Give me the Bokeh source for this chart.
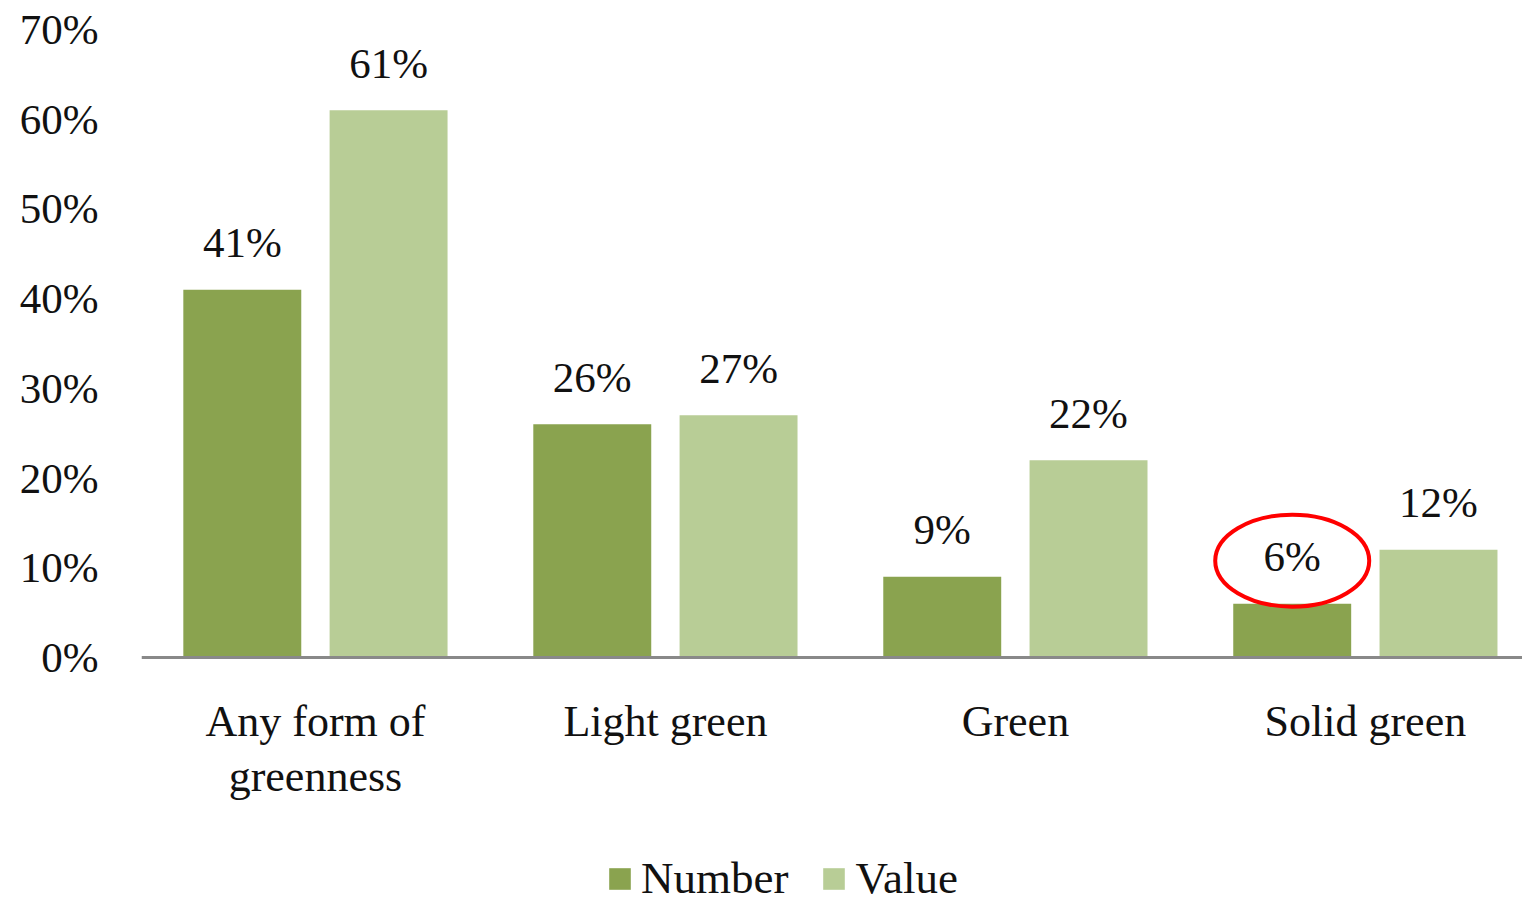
from bokeh.plotting import figure
from bokeh.models import ColumnDataSource, Legend, LegendItem, FixedTicker, Range1d, Span
from bokeh.core.properties import value
from bokeh.embed import file_html
from bokeh.resources import INLINE

categories = ["Any form of\ngreenness", "Light green", "Green", "Solid green"]
number_vals = [41, 26, 9, 6]
value_vals = [61, 27, 22, 12]
y_ticks = [0, 10, 20, 30, 40, 50, 60, 70]
y_tick_labels = ["0%", "10%", "20%", "30%", "40%", "50%", "60%", "70%"]
highlight_index = 3  # circled label: Solid green / Number

FONT = "Liberation Serif"
DARK = "#8AA34F"
LIGHT = "#B8CD96"
TXT = "#111111"

W, H = 1522, 904
B_LEFT, B_TOP = 141, 29
ZERO_Y = 657          # pixel row of the 0% baseline
Y_MAX = 70
px_per_unit = (ZERO_Y - B_TOP) / Y_MAX
y_min = -(H - ZERO_Y) / px_per_unit

centers = [i + 0.5 for i in range(len(categories))]
off = 0.209
bw = 0.337

src_n = ColumnDataSource(dict(x=[c - off for c in centers], top=number_vals,
                              lab=[f"{v}%" for v in number_vals]))
src_v = ColumnDataSource(dict(x=[c + off for c in centers], top=value_vals,
                              lab=[f"{v}%" for v in value_vals]))
src_c = ColumnDataSource(dict(x=centers, y=[0] * len(centers), lab=categories))

p = figure(width=W, height=H, output_backend="svg", toolbar_location=None,
           x_range=Range1d(0.003, 3.949), y_range=Range1d(y_min, Y_MAX),
           min_border_left=B_LEFT, min_border_right=0, min_border_top=B_TOP, min_border_bottom=0)
p.outline_line_color = None
p.xgrid.visible = False
p.ygrid.visible = False
p.xaxis.visible = False
p.background_fill_color = "white"

rn = p.vbar(x="x", top="top", width=bw, bottom=0, source=src_n, fill_color=DARK, line_color=None)
rv = p.vbar(x="x", top="top", width=bw, bottom=0, source=src_v, fill_color=LIGHT, line_color=None)

p.add_layout(Span(location=0, dimension="width", line_color="#898989", line_width=3))

for src in (src_n, src_v):
    p.text(x="x", y="top", text="lab", source=src, text_font=value(FONT), text_font_size="43px",
           text_align="center", text_baseline="alphabetic", y_offset=-47, text_color=TXT)

# category labels under the baseline
p.text(x="x", y="y", text="lab", source=src_c, text_font=value(FONT), text_font_size="44px",
       text_align="center", text_baseline="top", y_offset=39, text_line_height=1.13,
       text_color=TXT)

# red highlight ellipse around the Solid green "Number" label
p.ellipse(x=[centers[highlight_index] - off],
          y=[number_vals[highlight_index] + 43 / px_per_unit], width=154, height=92,
          width_units="screen", height_units="screen", fill_alpha=0,
          line_color="#FF0000", line_width=4)

# y axis
p.yaxis.ticker = FixedTicker(ticks=y_ticks)
p.yaxis.major_label_overrides = {t: l for t, l in zip(y_ticks, y_tick_labels)}
p.yaxis.axis_line_color = None
p.yaxis.major_tick_line_color = None
p.yaxis.minor_tick_line_color = None
p.yaxis.major_label_standoff = 37
p.yaxis.major_label_text_font = FONT
p.yaxis.major_label_text_font_size = "43px"
p.yaxis.major_label_text_color = TXT

legend = Legend(items=[LegendItem(label="Number", renderers=[rn]),
                       LegendItem(label="Value", renderers=[rv])],
                location=(465, 0), orientation="horizontal",
                glyph_width=27, glyph_height=27, label_standoff=8, spacing=32,
                padding=0, margin=0, border_line_color=None, background_fill_alpha=0,
                label_text_font=FONT, label_text_font_size="45px", label_text_color=TXT)
p.add_layout(legend, "center")

open("out.html", "w").write(file_html(p, INLINE))
